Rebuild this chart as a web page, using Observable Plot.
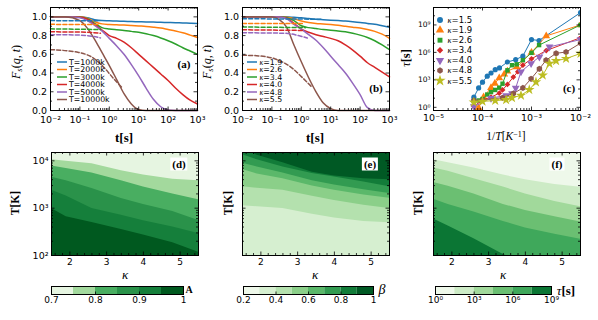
<!DOCTYPE html>
<html><head><meta charset="utf-8">
<script src="https://cdn.jsdelivr.net/npm/d3@7"></script>
<script src="https://cdn.jsdelivr.net/npm/@observablehq/plot@0.6"></script>
<style>
html,body{margin:0;padding:0;background:#fff;}
body{width:598px;height:320px;position:relative;overflow:hidden;}
.t{position:absolute;white-space:nowrap;transform:translate(-50%,-50%);line-height:1;color:#000;}
.serif{font-family:"Liberation Serif",serif;}
.sans{font-family:"DejaVu Sans",sans-serif;}
.box{background:#fff;padding:1px 2px;}
sup{font-size:0.7em;vertical-align:0.45em;line-height:0;}
sub{font-size:0.7em;vertical-align:-0.25em;line-height:0;}
</style></head><body>
<script>
// ================= DATA =================
// panel (a),(b): time grid [s]
const tGrid = [0.01, 0.0316, 0.1, 0.178, 0.316, 0.562, 1, 1.78, 3.16, 5.62, 10, 17.8, 31.6, 56.2, 100, 178, 316, 562, 1000];
const aLabels = ["T=1000k", "T=2000k", "T=3000k", "T=4000k", "T=5000k", "T=10000k"];
const aT1000  = [1.0, 1.0, 1.0, 0.99, 0.97, 0.96, 0.958, 0.955, 0.953, 0.95, 0.948, 0.946, 0.944, 0.942, 0.94, 0.938, 0.935, 0.933, 0.93];
const aT2000  = [1.0, 1.0, 0.998, 0.985, 0.95, 0.925, 0.918, 0.915, 0.912, 0.908, 0.903, 0.898, 0.89, 0.88, 0.865, 0.85, 0.83, 0.805, 0.78];
const aT3000  = [1.0, 1.0, 0.997, 0.98, 0.93, 0.885, 0.87, 0.862, 0.855, 0.845, 0.835, 0.82, 0.80, 0.775, 0.745, 0.71, 0.67, 0.635, 0.60];
const aT4000  = [1.0, 1.0, 0.996, 0.975, 0.92, 0.86, 0.80, 0.77, 0.73, 0.67, 0.60, 0.53, 0.46, 0.39, 0.32, 0.24, 0.17, 0.11, 0.07];
const aT5000  = [1.0, 1.0, 0.99, 0.96, 0.91, 0.85, 0.77, 0.69, 0.60, 0.49, 0.37, 0.24, 0.12, 0.04, 0.005, 0, 0, 0, 0];
const aT10000 = [1.0, 1.0, 0.96, 0.88, 0.76, 0.62, 0.48, 0.33, 0.18, 0.07, 0.01, 0, 0, 0, 0, 0, 0, 0, 0];
// dashed fits (t, F)
const aFitT = [[0.01, 0.4], [0.01, 0.45], [0.01, 0.5], [0.01, 0.1, 0.5], [0.01, 0.1, 0.3, 0.5], [0.01, 0.09, 0.32, 0.7, 1.5, 2.6]];
const aFitF = [[0.96, 0.958], [0.92, 0.918], [0.872, 0.865], [0.84, 0.838, 0.825], [0.81, 0.805, 0.79, 0.775], [0.65, 0.62, 0.55, 0.45, 0.33, 0.25]];

const bLabels = ["1.9", "2.6", "3.4", "4.0", "4.8", "5.5"];
const bK19 = [1, 1, 1, 1, 1.0, 0.995, 0.99, 0.982, 0.975, 0.97, 0.965, 0.96, 0.955, 0.948, 0.94, 0.93, 0.92, 0.905, 0.89];
const bK26 = [1, 1, 1, 1, 0.995, 0.98, 0.955, 0.94, 0.93, 0.925, 0.918, 0.91, 0.90, 0.89, 0.88, 0.865, 0.845, 0.815, 0.77];
const bK34 = [1, 1, 1, 1, 0.99, 0.96, 0.905, 0.885, 0.875, 0.865, 0.857, 0.85, 0.84, 0.825, 0.805, 0.78, 0.745, 0.70, 0.65];
const bK40 = [1, 1, 1, 0.998, 0.985, 0.93, 0.87, 0.835, 0.81, 0.79, 0.77, 0.745, 0.70, 0.645, 0.58, 0.51, 0.46, 0.41, 0.36];
const bK48 = [1, 1, 1, 0.998, 0.98, 0.92, 0.87, 0.81, 0.75, 0.67, 0.58, 0.49, 0.40, 0.29, 0.17, 0.03, 0, 0, 0];
const bK55 = [1, 1, 1, 0.97, 0.89, 0.70, 0.52, 0.35, 0.20, 0.08, 0.02, 0, 0, 0, 0, 0, 0, 0, 0];
const bFitT = [[0.01, 5], [0.01, 1.1], [0.01, 1.4], [0.01, 1.1], [0.01, 0.3, 0.8, 1.6], [0.01, 0.03, 0.13, 0.5, 1.1, 2.3]];
const bFitF = [[0.98, 0.975], [0.93, 0.928], [0.892, 0.885], [0.862, 0.855], [0.83, 0.825, 0.80, 0.775], [0.59, 0.585, 0.55, 0.45, 0.35, 0.25]];

const tTicks = [0.01, 0.1, 1, 10, 100, 1000];
const tTickLabels = ["10⁻²", "10⁻¹", "10⁰", "10¹", "10²", "10³"];
const fTicks = [0, 0.2, 0.4, 0.6, 0.8, 1.0];
const fTickLabels = ["0.0", "0.2", "0.4", "0.6", "0.8", "1.0"];

// panel (c): relaxation time tau [s] vs temperature T [K]
const cLabels = ["1.5", "1.9", "2.6", "3.4", "4.0", "4.8", "5.5"];
const cT15 = [15000, 12000, 10000, 8000, 6700, 5500, 4500, 3100, 2100, 1500, 1000, 700, 100];
const cTau15 = [1.3e1, 1.3e2, 5.6e2, 2.5e3, 5.6e3, 1.3e4, 2.0e4, 8.9e4, 1.6e5, 4.0e5, 2.5e7, 2.0e7, 2.2e10];
const cT19 = [12000, 9500, 6700, 5600, 4550, 3600, 3100, 2000, 1000, 500, 100];
const cTau19 = [0.9, 1.3e1, 1.4e2, 4.0e2, 1.6e3, 4.0e3, 8.9e3, 2.5e4, 1.0e6, 6.3e7, 1.0e9];
const cT26 = [15000, 12000, 10000, 8000, 6700, 5500, 4550, 3900, 3100, 2500, 2000, 1500, 1000, 700, 100];
const cTau26 = [5.0, 5.6, 8.0, 2.5e1, 4.6e1, 7.9e1, 1.4e2, 3.8e2, 1.1e4, 4.0e4, 5.0e4, 1.4e5, 8.9e5, 6.3e6, 1.0e9];
const cT34 = [15000, 10000, 6700, 4550, 3900, 3100, 2350, 1900, 1500, 1000, 500, 100];
const cTau34 = [1.3, 6.3, 1.3e1, 3.5e1, 7.9e1, 3.2e2, 2.0e3, 7.9e3, 4.0e4, 2.0e5, 1.6e6, 4.0e7];
const cT40 = [15000, 6700, 3300, 2500, 2100, 1640, 1020, 690, 430, 100];
const cTau40 = [1.2, 1.0e1, 2.0e1, 3.2e1, 1.3e2, 7.9e3, 6.3e4, 3.2e5, 4.0e6, 2.5e7];
const cT48 = [15000, 3900, 2350, 1500, 1020, 690, 505, 315, 197, 100];
const cTau48 = [5.5, 1.1e1, 3.2e1, 1.3e2, 1.3e3, 1.6e4, 1.4e5, 7.9e5, 1.1e6, 1.0e7];
const cT55 = [15000, 10000, 5500, 3300, 2500, 1640, 1110, 810, 590, 430, 315, 197, 100];
const cTau55 = [3.6, 4.5, 5.5, 6.6, 1.1e1, 2.0e1, 8.3e1, 5.8e2, 3.2e3, 6.0e4, 1.2e5, 2.1e5, 7.6e5];
const invTTicks = [1e-5, 1e-4, 1e-3, 1e-2];
const invTTickLabels = ["10⁻⁵", "10⁻⁴", "10⁻³", "10⁻²"];
const tauTicks = [1, 1e3, 1e6, 1e9];
const tauTickLabels = ["10⁰", "10³", "10⁶", "10⁹"];

// panels (d),(e),(f): contour boundaries T [K] at each kappa
const kGrid = [1.5, 1.9, 2.6, 3.4, 4.0, 4.8, 5.5];
const dA075 = [10500, 9800, 8700, 6200, 5000, 4100, 3800];
const dA080 = [7800, 6900, 5500, 3800, 2800, 2000, 1500];
const dA085 = [4500, 3800, 2600, 1600, 1200, 850, 550];
const dA090 = [2400, 1800, 980, 710, 540, 400, 290];
const dA095 = [980, 660, 500, 355, 270, 186, 117];
const eB09 = [17800, 13200, 9100, 5750, 4790, 4170, 3980];
const eB08 = [13500, 10500, 7400, 5370, 4570, 3550, 2820];
const eB07 = [8900, 7400, 5500, 3800, 3090, 2450, 2040];
const eB06 = [6600, 5250, 4170, 2950, 2400, 1900, 1620];
const eB05 = [2820, 2630, 2400, 1780, 1450, 1150, 980];
const eB04 = [1120, 1070, 980, 740, 620, 525, 490];
const fTau1e15 = [10500, 9100, 7100, 5000, 4000, 3160, 2750];
const fTau1e30 = [7100, 6000, 4200, 2800, 2000, 1380, 1070];
const fTau1e45 = [3470, 2900, 2000, 1200, 890, 660, 510];
const fTau1e60 = [1550, 1200, 830, 525, 380, 280, 220];
const fTau1e75 = [590, 420, 225, 105, 70, 40, 25];
const kTicks = [2, 3, 4, 5];
const TTicks = [100, 1000, 10000];
const TTickLabels = ["10²", "10³", "10⁴"];
// colorbars
const dLevels = [0.7, 0.75, 0.8, 0.85, 0.9, 0.95, 1.0];
const dBarTicks = [0.7, 0.8, 0.9, 1.0];
const dBarLabels = ["0.7", "0.8", "0.9", "1"];
const eLevels = [0.2, 0.3, 0.4, 0.5, 0.6, 0.7, 0.8, 0.9, 1.0];
const eBarTicks = [0.2, 0.4, 0.6, 0.8, 1.0];
const eBarLabels = ["0.2", "0.4", "0.6", "0.8", "1"];
const fLevels = [1, 3.16e1, 1e3, 3.16e4, 1e6, 3.16e7, 1e9];
const fBarTicks = [1, 1e3, 1e6, 1e9];
const fBarLabels = ["10⁰", "10³", "10⁶", "10⁹"];

// ================= STYLE =================
const tab = ["#1f77b4", "#ff7f0e", "#2ca02c", "#d62728", "#9467bd", "#8c564b", "#bcbd22"];
const dColors = ["#e6f5e1", "#a3d99d", "#49ae61", "#2a924a", "#157f3b", "#00591f"];
const eColors = ["#eef8ea", "#d6efd0", "#b4e1ae", "#8bcf89", "#5bb86a", "#329b51", "#127c39", "#005924"];
const fColors = ["#eef8ea", "#cdebc6", "#a1d99b", "#6bbf72", "#3fa85b", "#0b7634"];
const W = 147, H = 103;

function logMinors(lo, hi) {
  const out = [];
  for (let e = Math.floor(Math.log10(lo)); e <= Math.ceil(Math.log10(hi)); e++)
    for (let m = 1; m <= 9; m++) { const v = m * Math.pow(10, e); if (v >= lo * 0.999 && v <= hi * 1.001) out.push(v); }
  return out;
}
function linMinors(lo, hi, step) { const out = []; for (let v = lo; v <= hi + 1e-9; v += step) out.push(+v.toFixed(6)); return out; }

function tickMarks(w, h, xMaj, xMin, yMaj, yMin, L = 3.5, l = 2) {
  const s = {stroke: "black", strokeWidth: 0.8};
  const m = [];
  if (xMaj) m.push(Plot.tickX(xMaj, {x: d => d, insetTop: h - L, ...s}), Plot.tickX(xMaj, {x: d => d, insetBottom: h - L, ...s}));
  if (xMin) m.push(Plot.tickX(xMin, {x: d => d, insetTop: h - l, ...s}), Plot.tickX(xMin, {x: d => d, insetBottom: h - l, ...s}));
  if (yMaj) m.push(Plot.tickY(yMaj, {y: d => d, insetRight: w - L, ...s}), Plot.tickY(yMaj, {y: d => d, insetLeft: w - L, ...s}));
  if (yMin) m.push(Plot.tickY(yMin, {y: d => d, insetRight: w - l, ...s}), Plot.tickY(yMin, {y: d => d, insetLeft: w - l, ...s}));
  return m;
}
function fmt(vals, labels) { const mp = new Map(vals.map((v, i) => [v, labels[i]])); return d => mp.get(d) ?? ""; }

function panel({left, top, w = W, h = H, x, y, marks, ml = 40, mr = 14, mt = 8, mb = 26}) {
  const svg = Plot.plot({
    width: ml + w + mr, height: mt + h + mb,
    marginLeft: ml, marginRight: mr, marginTop: mt, marginBottom: mb,
    x: {...x, label: null, axis: null}, y: {...y, label: null, axis: null},
    color: {type: "identity"},
    style: {fontFamily: "DejaVu Sans", fontSize: "9.5px", color: "black", background: "none", overflow: "visible"},
    marks
  });
  svg.style.position = "absolute";
  svg.style.left = (left - ml) + "px";
  svg.style.top = (top - mt) + "px";
  document.body.appendChild(svg);
}
function label(html, x, y, cls, size, rot) {
  const d = document.createElement("div");
  d.className = "t " + cls; d.innerHTML = html;
  d.style.left = x + "px"; d.style.top = y + "px"; d.style.fontSize = size + "px";
  if (rot) d.style.transform = "translate(-50%,-50%) rotate(-90deg)";
  document.body.appendChild(d);
}

// ================= PANELS (a),(b) =================
function fPanel(left, series, fitT, fitF) {
  const marks = [];
  series.forEach((vals, i) => {
    marks.push(Plot.line(tGrid.map((t, j) => ({t, F: vals[j]})), {x: "t", y: "F", stroke: tab[i], strokeWidth: 1.5, curve: "monotone-x"}));
  });
  series.forEach((vals, i) => {
    marks.push(Plot.line(fitT[i].map((t, j) => ({t, F: fitF[i][j]})), {x: "t", y: "F", stroke: tab[i], strokeWidth: 1.5, strokeDasharray: "4,2.2", curve: "monotone-x"}));
  });
  marks.push(...tickMarks(W, H, tTicks, logMinors(0.01, 1000).filter(v => !tTicks.includes(v)), fTicks, linMinors(0.1, 1.0, 0.2)));
  marks.push(Plot.axisX({anchor: "bottom", ticks: tTicks, tickFormat: fmt(tTicks, tTickLabels), tickSize: 0, tickPadding: 5.5, fontSize: 9.5}));
  marks.push(Plot.axisY({anchor: "left", ticks: fTicks, tickFormat: fmt(fTicks, fTickLabels), tickSize: 0, tickPadding: 3.5, fontSize: 9.5}));
  marks.push(Plot.frame({stroke: "black", strokeWidth: 1}));
  panel({left, top: 7, x: {type: "log", domain: [0.01, 1000]}, y: {domain: [0, 1.1]}, marks});
}
fPanel(50, [aT1000, aT2000, aT3000, aT4000, aT5000, aT10000], aFitT, aFitF);
fPanel(242, [bK19, bK26, bK34, bK40, bK48, bK55], bFitT, bFitF);

// ================= PANEL (c) =================
{
  const cT = [cT15, cT19, cT26, cT34, cT40, cT48, cT55];
  const cTau = [cTau15, cTau19, cTau26, cTau34, cTau40, cTau48, cTau55];
  const sym = ["circle", "triangle", "square", "diamond2", "triangle", "hexagon", "star"];
  const rot = [0, 0, 0, 0, 180, 0, 0];
  const rr = [2.6, 2.9, 2.5, 2.6, 2.9, 2.7, 3.3];
  const marks = [];
  cT.forEach((Ts, i) => {
    const rows = Ts.map((T, j) => ({x: 1 / T, y: cTau[i][j]}));
    marks.push(Plot.line(rows, {x: "x", y: "y", stroke: tab[i], strokeWidth: 1, clip: true}));
    marks.push(Plot.dot(rows, {x: "x", y: "y", fill: tab[i], stroke: "none", symbol: sym[i], r: rr[i], rotate: rot[i], clip: true}));
  });
  const yMaj = [1, 1e3, 1e6, 1e9];
  const yMin = [1e1, 1e2, 1e4, 1e5, 1e7, 1e8, 1e10];
  marks.push(...tickMarks(W, H, invTTicks, logMinors(1e-5, 1e-2).filter(v => !invTTicks.includes(v)), yMaj, yMin));
  marks.push(Plot.axisX({anchor: "bottom", ticks: invTTicks, tickFormat: fmt(invTTicks, invTTickLabels), tickSize: 0, tickPadding: 3.5, fontSize: 9.5}));
  marks.push(Plot.axisY({anchor: "left", ticks: tauTicks, tickFormat: fmt(tauTicks, tauTickLabels), tickSize: 0, tickPadding: 3, fontSize: 7.5}));
  marks.push(Plot.frame({stroke: "black", strokeWidth: 1}));
  panel({left: 433, top: 7, x: {type: "log", domain: [1e-5, 1e-2]}, y: {type: "log", domain: [0.45, 8e10]}, marks});
}

// ================= PANELS (d),(e),(f) =================
function heat(left, bg, bounds, colors, showY) {
  const marks = [Plot.frame({fill: bg, stroke: null})];
  bounds.forEach((b, i) => {
    marks.push(Plot.areaY(kGrid.map((k, j) => ({k, T: b[j]})), {x: "k", y1: 100, y2: "T", fill: colors[i], curve: "linear", clip: true}));
  });
  marks.push(...tickMarks(W, H, kTicks, linMinors(1.6, 5.4, 0.2).filter(v => !kTicks.includes(Math.round(v * 1000) / 1000)), TTicks, logMinors(100, 15000).filter(v => !TTicks.includes(v))));
  marks.push(Plot.axisX({anchor: "bottom", ticks: kTicks, tickFormat: d => String(d), tickSize: 0, tickPadding: 3, fontSize: 9}));
  if (showY) marks.push(Plot.axisY({anchor: "left", ticks: TTicks, tickFormat: fmt(TTicks, TTickLabels), tickSize: 0, tickPadding: 3, fontSize: 9.5}));
  marks.push(Plot.frame({stroke: "black", strokeWidth: 1}));
  panel({left, top: 152, x: {domain: [1.5, 5.5]}, y: {type: "log", domain: [100, 15000]}, marks});
}
heat(51, dColors[0], [dA075, dA080, dA085, dA090, dA095], dColors.slice(1), true);
heat(242, eColors[7], [eB09, eB08, eB07, eB06, eB05, eB04], [eColors[6], eColors[5], eColors[4], eColors[3], eColors[2], eColors[1]], false);
heat(433, fColors[0], [fTau1e15, fTau1e30, fTau1e45, fTau1e60, fTau1e75], fColors.slice(1), false);

// ================= COLORBARS =================
function bar(left, w, levels, colors, ticks, labels, xscale) {
  const rows = levels.slice(0, -1).map((v, i) => ({x1: v, x2: levels[i + 1], c: colors[i]}));
  const marks = [
    Plot.rect(rows, {x1: "x1", x2: "x2", fill: "c"}),
    Plot.tickX(ticks.slice(1, -1), {x: d => d, insetTop: 8 - 2.5, stroke: "black", strokeWidth: 0.8}),
    Plot.axisX({anchor: "bottom", ticks, tickFormat: fmt(ticks, labels), tickSize: 0, tickPadding: 2, fontSize: 9}),
    Plot.frame({stroke: "black", strokeWidth: 1})
  ];
  panel({left, top: 286, w, h: 8, x: xscale, y: {domain: [0, 1]}, marks, mb: 20, mt: 4});
}
bar(51, 132, dLevels, dColors, dBarTicks, dBarLabels, {domain: [0.7, 1.0]});
bar(243, 130, eLevels, eColors, eBarTicks, eBarLabels, {domain: [0.2, 1.0]});
bar(435, 116, fLevels, fColors, fBarTicks, fBarLabels, {type: "log", domain: [1, 1e9]});

// ================= LEGENDS =================
function lineLegend(x0, y0, step, labels, kappa) {
  let s = `<svg width="80" height="60" style="position:absolute;left:${x0}px;top:${y0 - 4}px;overflow:visible">`;
  labels.forEach((lab, i) => {
    const y = 4 + i * step;
    s += `<line x1="0" x2="10" y1="${y}" y2="${y}" stroke="${tab[i]}" stroke-width="1.5"/>`;
    s += kappa
      ? `<text x="12.5" y="${y}" dy="0.35em" font-size="7.8" font-family="DejaVu Sans"><tspan font-family="Liberation Serif" font-style="italic">κ</tspan>=${lab}</text>`
      : `<text x="12" y="${y}" dy="0.35em" font-size="7.8" font-family="DejaVu Sans">${lab}</text>`;
  });
  s += `</svg>`;
  document.body.insertAdjacentHTML("beforeend", s);
}
lineLegend(57, 61.5, 7.5, aLabels, false);
lineLegend(247, 61.5, 7.5, bLabels, true);
{
  const symPaths = [
    d3.symbol(d3.symbolCircle, 28)(), d3.symbol(d3.symbolTriangle, 30)(), d3.symbol(d3.symbolSquare, 24)(),
    d3.symbol(d3.symbolDiamond2, 26)(), d3.symbol(d3.symbolTriangle, 30)(), null, d3.symbol(d3.symbolStar, 40)()
  ];
  const hexR = 3.2;
  const hex = d3.range(6).map(k => [hexR * Math.sin(k * Math.PI / 3), -hexR * Math.cos(k * Math.PI / 3)]);
  let s = `<svg width="60" height="80" style="position:absolute;left:436px;top:16px;overflow:visible">`;
  cLabels.forEach((lab, i) => {
    const y = 4 + i * 10.1;
    const tr = `translate(4,${y})` + (i === 4 ? " rotate(180)" : "");
    if (symPaths[i]) s += `<path d="${symPaths[i]}" transform="${tr}" fill="${tab[i]}"/>`;
    else s += `<polygon points="${hex.map(p => p.join(",")).join(" ")}" transform="${tr}" fill="${tab[i]}"/>`;
    s += `<text x="11.5" y="${y}" dy="0.35em" font-size="8.5" font-family="DejaVu Sans"><tspan font-family="Liberation Serif" font-style="italic">κ</tspan>=${lab}</text>`;
  });
  s += `</svg>`;
  document.body.insertAdjacentHTML("beforeend", s);
}

// ================= TEXT LABELS =================
label("<i>F<sub>s</sub></i>(<i>q</i>, <i>t</i>)", 16, 62, "serif", 12, true);
label("<i>F<sub>s</sub></i>(<i>q</i>, <i>t</i>)", 207, 62, "serif", 12, true);
label("<b>t[s]</b>", 124, 137, "serif", 13);
label("<b>t[s]</b>", 315, 137, "serif", 13);
label("<i>τ</i><b>[s]</b>", 406, 58, "serif", 12.5, true);
label("1/<i>T</i>[<i>K</i><sup>−1</sup>]", 506, 137, "serif", 11.5);
label("<b>(a)</b>", 184, 64, "serif", 11);
label("<b>(b)</b>", 376, 88, "serif", 11);
label("<b>(c)</b>", 569, 88, "serif", 11);
label("<b>(d)</b>", 179, 164, "serif box", 11);
label("<b>(e)</b>", 370, 164, "serif box", 11);
label("<b>(f)</b>", 557, 164, "serif box", 11);
label("<b>T[K]</b>", 16, 203, "serif", 11.5, true);
label("<b>T[K]</b>", 229, 203, "serif", 11.5, true);
label("<b>T[K]</b>", 419, 203, "serif", 11.5, true);
label("<i>κ</i>", 125, 274, "serif", 13);
label("<i>κ</i>", 315, 274, "serif", 13);
label("<i>κ</i>", 503, 274, "serif", 13);
label("<b>A</b>", 189, 290, "serif", 10);
label("<i>β</i>", 382, 290, "serif", 14);
label("<i>τ</i><b>[s]</b>", 566, 290, "serif", 13);
</script></body></html>
